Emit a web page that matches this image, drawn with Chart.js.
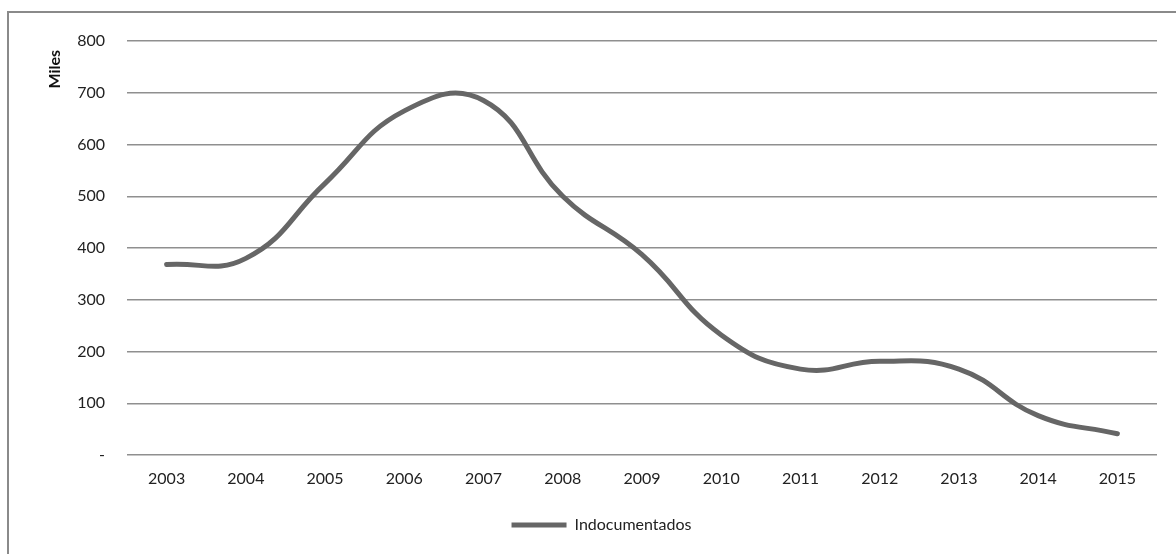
<!DOCTYPE html>
<html>
<head>
<meta charset="utf-8">
<script src="https://cdn.jsdelivr.net/npm/chart.js@4/dist/chart.umd.min.js"></script>
<style>
  html, body { margin: 0; padding: 0; background: #fff; }
  #wrap { width: 1176px; height: 554px; position: relative; }
</style>
</head>
<body>
<div id="wrap"><canvas id="c" width="1176" height="554"></canvas></div>
<script>
// Undocumented immigrants per year (thousands)
const years = ['2003','2004','2005','2006','2007','2008','2009','2010','2011','2012','2013','2014','2015'];
const indocumentados = [368, 380, 525, 665, 685, 500, 387, 232, 166, 181, 166, 76, 41];
const yTicks = [0, 100, 200, 300, 400, 500, 600, 700, 800];

const FONT = 'Lato, "Open Sans", sans-serif';
const TEXT = '#222222';
const GRID = '#8f8f8f';
const LINE = '#666666';

// Outer frame: top and left edges
const framePlugin = {
  id: 'frame',
  afterDraw(chart) {
    const ctx = chart.ctx;
    ctx.save();
    ctx.strokeStyle = '#8a8a8a';
    ctx.lineWidth = 2;
    ctx.beginPath();
    ctx.moveTo(8, 554);
    ctx.lineTo(8, 12);
    ctx.lineTo(1176, 12);
    ctx.stroke();
    ctx.restore();
  }
};

// Axis title "Miles", rotated, near the top of the value axis
const yTitlePlugin = {
  id: 'yTitle',
  afterDraw(chart) {
    const ctx = chart.ctx;
    const top = chart.chartArea.top;
    ctx.save();
    ctx.translate(55, top + 9);
    ctx.rotate(-Math.PI / 2);
    ctx.font = 'bold 16px ' + FONT;
    ctx.fillStyle = '#111111';
    ctx.textAlign = 'right';
    ctx.textBaseline = 'middle';
    ctx.fillText('Miles', 0, 0);
    ctx.restore();
  }
};

new Chart(document.getElementById('c'), {
  type: 'line',
  data: {
    labels: years,
    datasets: [{
      label: 'Indocumentados',
      data: indocumentados,
      borderColor: LINE,
      backgroundColor: LINE,
      borderWidth: 5,
      borderCapStyle: 'round',
      borderJoinStyle: 'round',
      pointRadius: 0,
      pointHoverRadius: 0,
      tension: 0.45,
      fill: false
    }]
  },
  options: {
    responsive: false,
    animation: false,
    layout: { padding: { left: 46, right: 19, top: 41, bottom: 11 } },
    scales: {
      x: {
        offset: true,
        grid: { display: false },
        border: { display: false },
        ticks: { color: TEXT, font: { family: FONT, size: 16 }, padding: 6, maxRotation: 0 },
        afterFit(s) { s.height = 52; }
      },
      y: {
        min: 0,
        max: 800,
        afterBuildTicks(s) { s.ticks = yTicks.map(v => ({ value: v })); },
        grid: { color: GRID, lineWidth: 1.5, drawTicks: false },
        border: { display: false },
        ticks: {
          color: TEXT,
          font: { family: FONT, size: 16 },
          padding: 22,
          callback: v => (v === 0 ? '-' : String(v))
        },
        afterFit(s) { s.width = 81; }
      }
    },
    plugins: {
      legend: {
        position: 'bottom',
        labels: {
          color: TEXT,
          font: { family: FONT, size: 16 },
          boxWidth: 55,
          boxHeight: 5,
          padding: 10,
          useBorderRadius: true,
          borderRadius: 2.5,
          generateLabels(chart) {
            return chart.data.datasets.map((d, i) => ({
              text: d.label,
              fillStyle: LINE,
              strokeStyle: LINE,
              lineWidth: 0,
              fontColor: TEXT,
              datasetIndex: i,
              hidden: false
            }));
          }
        }
      },
      tooltip: { enabled: false }
    }
  },
  plugins: [framePlugin, yTitlePlugin]
});
</script>
</body>
</html>
